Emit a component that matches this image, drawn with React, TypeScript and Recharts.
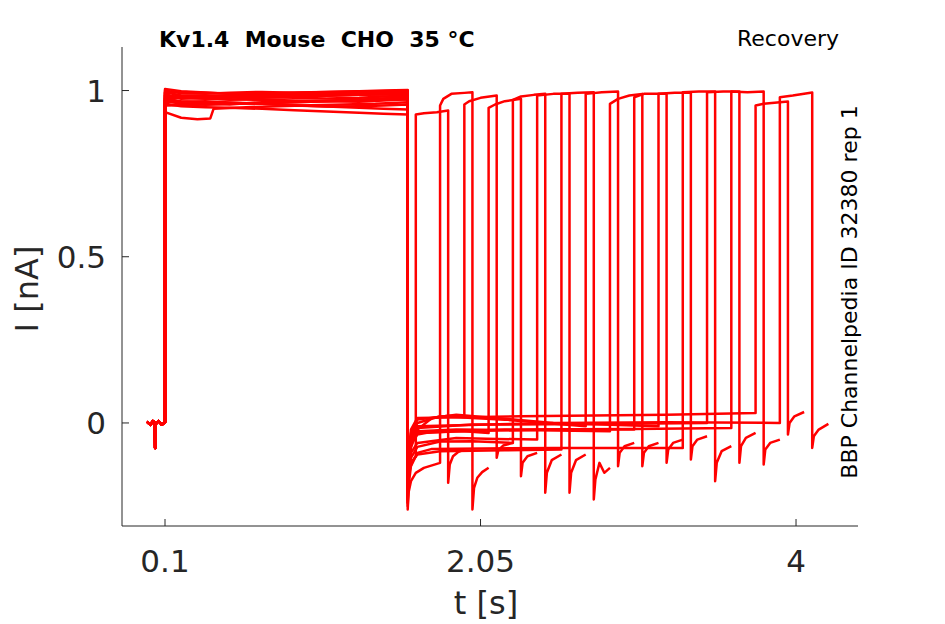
import { Line, LineChart, XAxis, YAxis } from "recharts";

// time [s], current [nA] pairs
const holding: [number, number][] = [
  [-0.011, 0.004], [0.01, -0.006], [0.025, 0.006], [0.037, 0.0], [0.039, -0.075],
  [0.042, -0.004], [0.06, 0.006], [0.08, -0.005], [0.1, 0.002],
];

const plateauTimes = [0.1, 0.2, 0.35, 0.5, 0.7, 0.9, 1.1, 1.3, 1.45, 1.6];

const sweep01: [number, number][] = [
  [0.1, 0.935], [0.2, 0.918], [0.3, 0.914], [0.38, 0.916], [0.4, 0.945], [0.6, 0.95],
  [0.8, 0.953], [1.0, 0.956], [1.2, 0.958], [1.4, 0.96], [1.6, 0.965],
  [1.6, -0.2], [1.61, -0.14], [1.63, -0.115], [1.65, -0.1],
  [1.65, 0.928], [1.7, 0.932], [1.78, 0.935], [1.85, 0.94],
  [1.85, -0.18], [1.86, -0.125], [1.88, -0.1], [1.91, -0.088], [1.95, -0.08],
];

const levels02 = [0.99, 0.975, 0.978, 0.972, 0.978, 0.982, 0.984, 0.988, 0.99, 0.993];
const tail02: [number, number][] = [
  [1.6, -0.26], [1.605, -0.21], [1.62, -0.175], [1.65, -0.15], [1.7, -0.135], [1.8, -0.12],
  [1.8, 0.955], [1.82, 0.975], [1.87, 0.99], [1.95, 0.993], [2.0, 0.995],
  [2.0, -0.26], [2.01, -0.195], [2.03, -0.165], [2.06, -0.148], [2.1, -0.135],
];

const levels03 = [0.97, 0.96, 0.962, 0.958, 0.965, 0.968, 0.97, 0.972, 0.976, 0.98];
const tail03: [number, number][] = [
  [1.6, -0.24], [1.605, -0.15], [1.62, -0.075], [1.66, -0.02], [1.75, 0.015], [1.85, 0.022], [1.95, 0.018],
  [1.95, 0.958], [1.98, 0.968], [2.05, 0.978], [2.15, 0.985],
  [2.15, -0.105], [2.16, -0.082], [2.19, -0.068], [2.25, -0.06],
];

const levels04 = [0.995, 0.985, 0.982, 0.986, 0.99, 0.986, 0.99, 0.993, 0.995, 0.997];
const tail04: [number, number][] = [
  [1.6, -0.22], [1.605, -0.13], [1.62, -0.065], [1.66, -0.035], [1.8, -0.022], [1.95, -0.025], [2.1, -0.03],
  [2.1, 0.948], [2.14, 0.958], [2.2, 0.968], [2.3, 0.975],
  [2.3, -0.16], [2.31, -0.12], [2.34, -0.1], [2.4, -0.09],
];

const levels05 = [0.96, 0.953, 0.95, 0.948, 0.945, 0.941, 0.937, 0.933, 0.93, 0.928];
const tail05: [number, number][] = [
  [1.6, -0.21], [1.605, -0.155], [1.62, -0.105], [1.66, -0.072], [1.8, -0.056], [2.0, -0.055], [2.25, -0.06],
  [2.25, 0.972], [2.3, 0.982], [2.38, 0.987], [2.45, 0.99],
  [2.45, -0.21], [2.46, -0.15], [2.49, -0.112], [2.55, -0.095],
];

const levels06 = [0.975, 0.968, 0.965, 0.963, 0.96, 0.956, 0.952, 0.948, 0.945, 0.943];
const tail06: [number, number][] = [
  [1.6, -0.2], [1.605, -0.14], [1.62, -0.09], [1.66, -0.06], [1.9, -0.045], [2.15, -0.048], [2.4, -0.05],
  [2.4, 0.985], [2.5, 0.99], [2.6, 0.99],
  [2.6, -0.21], [2.61, -0.15], [2.64, -0.112], [2.7, -0.095],
];

const levels07 = [0.985, 0.98, 0.976, 0.973, 0.972, 0.97, 0.968, 0.966, 0.97, 0.974];
const tail07: [number, number][] = [
  [1.6, -0.23], [1.605, -0.17], [1.62, -0.12], [1.66, -0.095], [1.8, -0.085], [2.2, -0.082], [2.55, -0.08],
  [2.55, 0.99], [2.65, 0.993], [2.75, 0.995],
  [2.75, -0.23], [2.76, -0.17], [2.785, -0.12], [2.815, -0.15], [2.85, -0.135],
];

const levels08 = [0.995, 0.996, 0.993, 0.99, 0.988, 0.99, 0.993, 0.996, 0.998, 1.0];
const tail08: [number, number][] = [
  [1.6, -0.22], [1.605, -0.11], [1.62, -0.04], [1.66, 0.0], [1.8, 0.02], [2.2, 0.01], [2.7, -0.01],
  [2.7, 0.99], [2.8, 0.995], [2.9, 0.997],
  [2.9, -0.13], [2.91, -0.09], [2.94, -0.07], [3.0, -0.06],
];

const levels09 = [0.955, 0.956, 0.958, 0.96, 0.963, 0.965, 0.968, 0.972, 0.976, 0.98];
const tail09: [number, number][] = [
  [1.6, -0.24], [1.605, -0.13], [1.62, -0.06], [1.66, -0.025], [1.9, -0.02], [2.4, -0.022], [2.85, -0.025],
  [2.85, 0.96], [2.9, 0.975], [2.97, 0.985], [3.05, 0.99],
  [3.05, -0.13], [3.06, -0.09], [3.09, -0.07], [3.15, -0.06],
];

const levels10 = [0.985, 0.978, 0.975, 0.978, 0.98, 0.982, 0.985, 0.987, 0.988, 0.99];
const tail10: [number, number][] = [
  [1.6, -0.21], [1.605, -0.12], [1.62, -0.055], [1.66, -0.03], [1.9, -0.025], [2.5, -0.02], [3.0, -0.02],
  [3.0, 0.98], [3.06, 0.99], [3.2, 0.99],
  [3.2, -0.12], [3.21, -0.08], [3.24, -0.06], [3.3, -0.05],
];

const levels11 = [1.0, 0.992, 0.99, 0.993, 0.996, 0.993, 0.996, 0.998, 0.996, 0.997];
const tail11: [number, number][] = [
  [1.6, -0.2], [1.605, -0.1], [1.62, -0.03], [1.66, 0.01], [1.9, 0.025], [2.5, 0.0], [3.15, -0.01],
  [3.15, 0.99], [3.25, 0.993], [3.35, 0.993],
  [3.35, -0.11], [3.36, -0.07], [3.39, -0.05], [3.45, -0.04],
];

const levels12 = [0.97, 0.96, 0.957, 0.96, 0.962, 0.965, 0.968, 0.97, 0.972, 0.974];
const tail12: [number, number][] = [
  [1.6, -0.25], [1.605, -0.19], [1.62, -0.13], [1.66, -0.09], [1.75, -0.078], [2.5, -0.075], [3.3, -0.075],
  [3.3, 0.995], [3.4, 0.997], [3.5, 0.997],
  [3.5, -0.175], [3.51, -0.12], [3.54, -0.085], [3.6, -0.07],
];

const levels13 = [0.98, 0.984, 0.985, 0.982, 0.98, 0.978, 0.976, 0.978, 0.982, 0.985];
const tail13: [number, number][] = [
  [1.6, -0.2], [1.605, -0.1], [1.62, -0.04], [1.66, -0.015], [2.0, -0.005], [2.8, -0.003], [3.45, 0.0],
  [3.45, 0.995], [3.55, 0.997], [3.65, 0.997],
  [3.65, -0.12], [3.66, -0.07], [3.69, -0.045], [3.75, -0.03],
];

const levels14 = [1.005, 0.998, 0.994, 0.99, 0.992, 0.994, 0.996, 0.998, 1.0, 1.002];
const tail14: [number, number][] = [
  [1.6, -0.22], [1.605, -0.12], [1.62, -0.06], [1.66, -0.03], [2.2, -0.02], [3.0, -0.018], [3.6, -0.015],
  [3.6, 0.997], [3.7, 0.995], [3.8, 0.997],
  [3.8, -0.125], [3.81, -0.08], [3.84, -0.06], [3.9, -0.05],
];

const levels15 = [0.965, 0.966, 0.968, 0.964, 0.96, 0.955, 0.952, 0.953, 0.955, 0.958];
const tail15: [number, number][] = [
  [1.6, -0.21], [1.605, -0.1], [1.62, -0.02], [1.66, 0.015], [2.3, 0.02], [3.2, 0.025], [3.75, 0.03],
  [3.75, 0.955], [3.8, 0.96], [3.95, 0.967],
  [3.95, -0.035], [3.96, 0.0], [3.99, 0.02], [4.05, 0.033],
];

const levels16 = [0.975, 0.978, 0.98, 0.982, 0.985, 0.984, 0.985, 0.987, 0.988, 0.99];
const tail16: [number, number][] = [
  [1.6, -0.23], [1.605, -0.11], [1.62, -0.05], [1.66, -0.01], [2.5, 0.0], [3.2, 0.002], [3.9, 0.0],
  [3.9, 0.98], [3.98, 0.985], [4.1, 0.994],
  [4.1, -0.075], [4.11, -0.04], [4.14, -0.02], [4.2, -0.003],
];

const xTicks = [0.1, 2.05, 4];
const xTickLabels = ["0.1", "2.05", "4"];
const yTicks = [0, 0.5, 1];
const yTickLabels = ["0", "0.5", "1"];

const toPoints = (pairs: [number, number][]) => pairs.map(([t, i]) => ({ t, i }));

const withPlateau = (levels: number[], tail: [number, number][]) =>
  toPoints([...holding, ...plateauTimes.map((t, k) => [t, levels[k]] as [number, number]), ...tail]);

const sweeps = [
  toPoints([...holding, ...sweep01]),
  withPlateau(levels02, tail02),
  withPlateau(levels03, tail03),
  withPlateau(levels04, tail04),
  withPlateau(levels05, tail05),
  withPlateau(levels06, tail06),
  withPlateau(levels07, tail07),
  withPlateau(levels08, tail08),
  withPlateau(levels09, tail09),
  withPlateau(levels10, tail10),
  withPlateau(levels11, tail11),
  withPlateau(levels12, tail12),
  withPlateau(levels13, tail13),
  withPlateau(levels14, tail14),
  withPlateau(levels15, tail15),
  withPlateau(levels16, tail16),
];

const ink = "#262626";
const font = "DejaVu Sans";

export default function App() {
  return (
    <div style={{ position: "absolute", left: 0, top: 0, width: 945, height: 624, background: "#fff" }}>
      <LineChart width={945} height={624} margin={{ top: 47, right: 87, bottom: 38, left: 42 }}>
        <XAxis
          type="number"
          dataKey="t"
          domain={[-0.1658, 4.383]}
          allowDataOverflow
          ticks={xTicks}
          tickFormatter={(v: number) => xTickLabels[xTicks.indexOf(v)] ?? String(v)}
          height={60}
          tickSize={-7}
          tickMargin={31}
          stroke={ink}
          tick={{ fill: ink, fontSize: 31, fontFamily: font }}
        />
        <YAxis
          type="number"
          domain={[-0.31, 1.131]}
          allowDataOverflow
          ticks={yTicks}
          tickFormatter={(v: number) => yTickLabels[yTicks.indexOf(v)] ?? String(v)}
          width={80}
          tickSize={-7}
          tickMargin={23}
          stroke={ink}
          tick={{ fill: ink, fontSize: 31, fontFamily: font }}
        />
        {sweeps.map((pts, k) => (
          <Line
            key={k}
            data={pts}
            dataKey="i"
            type="linear"
            stroke="#ff0000"
            strokeWidth={2.5}
            strokeLinejoin="round"
            dot={false}
            activeDot={false}
            isAnimationActive={false}
          />
        ))}
      </LineChart>
      <svg
        width={945}
        height={624}
        style={{ position: "absolute", left: 0, top: 0, pointerEvents: "none" }}
        fontFamily={font}
      >
        <text x={159} y={47} fontSize={22} fontWeight="bold" fill="#000" style={{ whiteSpace: "pre" }}>
          Kv1.4  Mouse  CHO  35 °C
        </text>
        <text x={737} y={46} fontSize={22} fill="#000">
          Recovery
        </text>
        <text x={0} y={0} fontSize={22} fill="#000" textAnchor="middle" transform="translate(857,292) rotate(-90)">
          BBP Channelpedia ID 32380 rep 1
        </text>
        <text x={0} y={0} fontSize={32} fill={ink} textAnchor="middle" transform="translate(38,289) rotate(-90)">
          I [nA]
        </text>
        <text x={486} y={614} fontSize={32} fill={ink} textAnchor="middle">
          t [s]
        </text>
      </svg>
    </div>
  );
}
